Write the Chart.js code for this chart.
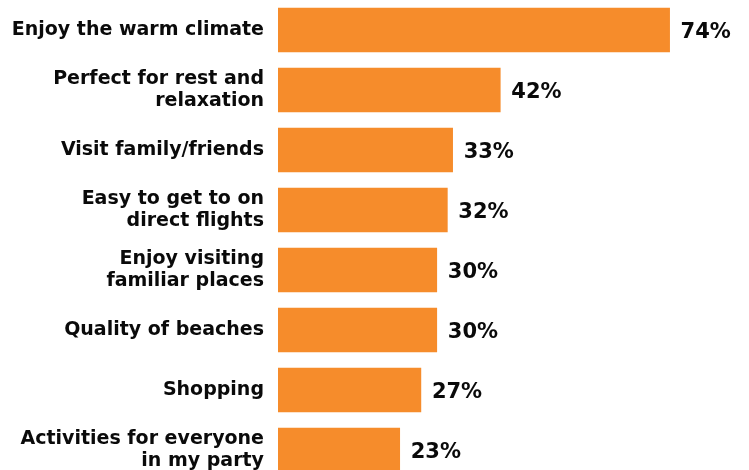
<!DOCTYPE html>
<html>
<head>
<meta charset="utf-8">
<script src="https://cdn.jsdelivr.net/npm/chart.js@4"></script>
<style>
html,body{margin:0;padding:0;background:#fff;overflow:hidden;}
#wrap{width:749px;height:480px;position:relative;}
</style>
</head>
<body>
<div id="wrap"><canvas id="c"></canvas></div>
<script>
const categories = [
  "Enjoy the warm climate",
  ["Perfect for rest and", "relaxation"],
  "Visit family/friends",
  ["Easy to get to on", "direct flights"],
  ["Enjoy visiting", "familiar places"],
  "Quality of beaches",
  "Shopping",
  ["Activities for everyone", "in my party"]
];
const values = [74, 42, 33, 32, 30, 30, 27, 23];
const valueLabels = ["74%", "42%", "33%", "32%", "30%", "30%", "27%", "23%"];

const FONT = "'DejaVu Sans', sans-serif";

const valueLabelPlugin = {
  id: 'valueLabels',
  afterDatasetsDraw(chart) {
    const ctx = chart.ctx;
    const meta = chart.getDatasetMeta(0);
    ctx.save();
    ctx.font = "bold 21px " + FONT;
    ctx.fillStyle = "#0a0a0a";
    ctx.textAlign = "left";
    ctx.textBaseline = "middle";
    meta.data.forEach((bar, i) => {
      ctx.fillText(valueLabels[i], bar.x + 11, bar.y + 3);
    });
    ctx.restore();
  }
};

new Chart(document.getElementById('c'), {
  type: 'bar',
  data: {
    labels: categories,
    datasets: [{
      data: values,
      backgroundColor: '#F68C2B',
      borderWidth: 0,
      barThickness: 44
    }]
  },
  options: {
    indexAxis: 'y',
    responsive: true,
    maintainAspectRatio: false,
    animation: false,
    layout: { padding: 0 },
    plugins: { legend: { display: false }, tooltip: { enabled: false } },
    scales: {
      x: { display: false, min: 0, max: 89 },
      y: {
        afterFit(scale) {
          scale.width = 278;
          scale.paddingTop = 0;
          scale.paddingBottom = 0;
        },
        grid: { display: false, drawTicks: false },
        border: { display: false },
        ticks: {
          color: '#0a0a0a',
          padding: 14,
          font: { family: FONT, size: 19, weight: 'bold', lineHeight: 1.12 }
        }
      }
    }
  },
  plugins: [valueLabelPlugin]
});
</script>
</body>
</html>
